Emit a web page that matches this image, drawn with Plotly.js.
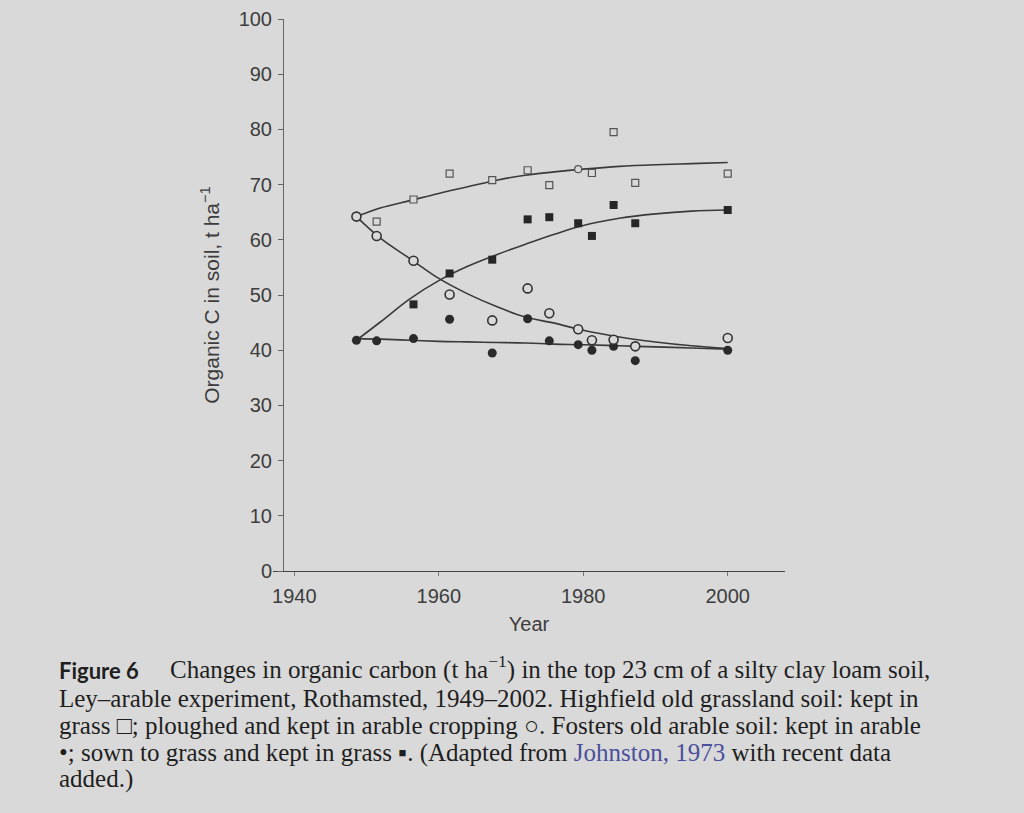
<!DOCTYPE html>
<html>
<head>
<meta charset="utf-8">
<script src="https://cdn.plot.ly/plotly-3.0.1.min.js"></script>
<style>
  html, body { margin: 0; padding: 0; background: #d9d9d9; }
  #chart { width: 1024px; height: 813px; }
</style>
</head>
<body>
<div id="chart"></div>
<script>
// ---- data ----
// sampling years for the measured points
var sampleYears = [1948.6, 1951.4, 1956.5, 1961.5, 1967.4, 1972.3, 1975.3, 1979.3, 1981.2, 1984.2, 1987.2, 2000];

// Highfield old grassland, kept in grass (open squares)
var grassKeptYears = [1951.4, 1956.5, 1961.5, 1967.4, 1972.3, 1975.3, 1979.3, 1981.2, 1984.2, 1987.2, 2000];
var grassKeptC     = [63.3, 67.3, 72.0, 70.8, 72.6, 69.9, 72.8, 72.1, 79.5, 70.3, 72.0];
var grassKeptSymbols = ['square', 'square', 'square', 'square', 'square', 'square', 'circle', 'square', 'square', 'square', 'square'];

// Highfield ploughed and kept in arable (open circles)
var ploughedYears = sampleYears;
var ploughedC     = [64.2, 60.7, 56.2, 50.1, 45.4, 51.2, 46.7, 43.8, 41.8, 41.9, 40.7, 42.2];

// Fosters old arable, kept in arable (closed circles)
var arableKeptYears = sampleYears;
var arableKeptC     = [41.8, 41.7, 42.1, 45.6, 39.5, 45.7, 41.7, 41.0, 40.0, 40.7, 38.1, 40.0];

// Fosters sown to grass and kept in grass (closed squares)
var sownGrassYears = [1956.5, 1961.5, 1967.4, 1972.3, 1975.3, 1979.3, 1981.2, 1984.2, 1987.2, 2000];
var sownGrassC     = [48.3, 53.9, 56.4, 63.7, 64.1, 63.0, 60.7, 66.3, 63.0, 65.4];

// fitted curves
var curveYears      = [1948.6, 1952, 1956, 1960, 1964, 1968, 1972, 1976, 1980, 1985, 1990, 1995, 2000];
var fitGrassKept    = [64.2, 65.8, 67.1, 68.4, 69.6, 70.8, 71.7, 72.3, 72.8, 73.3, 73.6, 73.8, 74.0];
var fitPloughed     = [64.2, 60.2, 56.6, 53.0, 50.2, 47.9, 46.0, 44.9, 43.6, 42.4, 41.5, 40.8, 40.3];
var fitSownGrass    = [41.8, 45.2, 49.3, 52.6, 55.2, 57.3, 59.2, 61.0, 62.6, 63.9, 64.7, 65.2, 65.4];
var fitArableKept   = [42.1, 42.0, 41.8, 41.6, 41.5, 41.4, 41.3, 41.1, 41.0, 40.8, 40.6, 40.4, 40.2];

var xTickVals = [1940, 1960, 1980, 2000];
var yTickVals = [0, 10, 20, 30, 40, 50, 60, 70, 80, 90, 100];

// ---- styling ----
var BG = '#d9d9d9';
var LINE = '#3a3a3a';
function curve(y) {
  return { x: curveYears, y: y, mode: 'lines', type: 'scatter', hoverinfo: 'skip',
           line: { color: LINE, width: 1.6, shape: 'spline', smoothing: 1 }, showlegend: false };
}

var traces = [
  curve(fitGrassKept), curve(fitPloughed), curve(fitSownGrass), curve(fitArableKept),
  { x: arableKeptYears, y: arableKeptC, mode: 'markers', type: 'scatter', showlegend: false,
    marker: { symbol: 'circle', size: 9, color: '#2a2a2a', line: { width: 0 } } },
  { x: sownGrassYears, y: sownGrassC, mode: 'markers', type: 'scatter', showlegend: false,
    marker: { symbol: 'square', size: 8, color: '#262626', line: { width: 0 } } },
  { x: ploughedYears, y: ploughedC, mode: 'markers', type: 'scatter', showlegend: false,
    marker: { symbol: 'circle', size: 9, color: BG, line: { width: 1.6, color: '#333333' } } },
  { x: grassKeptYears, y: grassKeptC, mode: 'markers', type: 'scatter', showlegend: false,
    marker: { symbol: grassKeptSymbols, size: 7, color: BG, line: { width: 1.2, color: '#555555' } } }
];

var capFont = { family: 'Liberation Serif, serif', size: 25, color: '#1f1f1f' };
var L = 273, R = 785, T = 19, B = 571;
function px(xp) { return (xp - L) / (R - L); }
function py(yp) { return (B - yp) / (B - T); }
function capLine(text, x, yb) {
  return { xref: 'paper', yref: 'paper', x: px(x), y: py(yb), xanchor: 'left', yanchor: 'bottom',
           showarrow: false, text: text, font: capFont };
}

var annotations = [
  { xref: 'paper', yref: 'paper', x: px(57), y: py(686), xanchor: 'left', yanchor: 'bottom',
    showarrow: false, text: 'Figure 6', font: { family: 'Lato, Open Sans, sans-serif', size: 22, weight: 'bold', color: '#1f1f1f' } },
  capLine('Changes in organic carbon (t ha<sup>\u22121</sup>) in the top 23 cm of a silty clay loam soil,', 168, 686),
  capLine('Ley\u2013arable experiment, Rothamsted, 1949\u20132002. Highfield old grassland soil: kept in', 57, 713.5),
  capLine('grass \u25a1; ploughed and kept in arable cropping \u25cb. Fosters old arable soil: kept in arable', 57, 741),
  capLine('\u2022; sown to grass and kept in grass \u25aa. (Adapted from <span style="color:#4b4f9c">Johnston, 1973</span> with recent data', 57, 768.5),
  capLine('added.)', 57, 795)
];

var layout = {
  width: 1024, height: 813,
  paper_bgcolor: BG, plot_bgcolor: BG,
  margin: { l: L, r: 1024 - R, t: T, b: 813 - B, pad: 0 },
  showlegend: false,
  xaxis: {
    range: [1937.05, 2007.93], tickvals: xTickVals, ticktext: xTickVals.map(String),
    ticks: 'outside', ticklen: 4, tickwidth: 1, tickcolor: '#777', ticklabelstandoff: 3,
    showline: true, linecolor: '#444', linewidth: 1.2, showgrid: false, zeroline: false,
    tickfont: { family: 'Liberation Sans, Arial, sans-serif', size: 20, color: '#3d3d3d' },
    title: { text: 'Year', standoff: 10, font: { family: 'Liberation Sans, Arial, sans-serif', size: 20, color: '#3d3d3d' } }
  },
  yaxis: {
    range: [0, 100], tickvals: yTickVals, ticktext: yTickVals.map(String),
    anchor: 'free', position: px(283),
    ticks: 'outside', ticklen: 5, tickwidth: 1, tickcolor: '#666', ticklabelstandoff: 2,
    showline: true, linecolor: '#666', linewidth: 1, showgrid: false, zeroline: false,
    tickfont: { family: 'Liberation Sans, Arial, sans-serif', size: 20, color: '#3d3d3d' },
    title: { text: 'Organic C in soil, t ha<sup>\u22121</sup>', standoff: 12, font: { family: 'Liberation Sans, Arial, sans-serif', size: 21, color: '#3d3d3d' } }
  },
  annotations: annotations
};

Plotly.newPlot('chart', traces, layout, { staticPlot: true, displayModeBar: false });
</script>
</body>
</html>
